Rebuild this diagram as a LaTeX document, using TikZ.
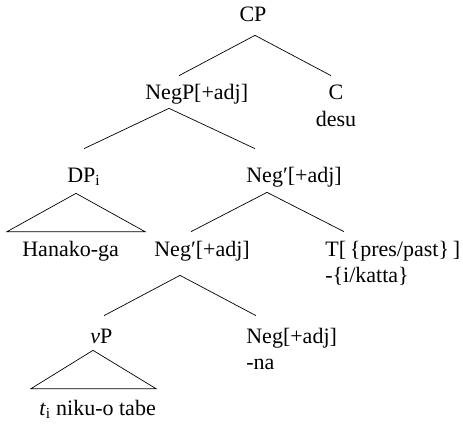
\documentclass[tikz,border=0pt]{standalone}
\usepackage{fontspec}
\setmainfont{Liberation Serif}
\usetikzlibrary{positioning}

\begin{document}
\begin{tikzpicture}[x=1pt, y=-1pt, inner sep=0pt, text height=15pt, text depth=5pt,
    font=\fontsize{22}{26}\selectfont, line width=0.7pt]
      \useasboundingbox (0,0) rectangle (463,425);

      \node (cp) [anchor=base] at (253,22) {CP};
      \node (negp) [anchor=base west] at (145,100) {NegP[+adj]};
      \node (c) [anchor=base] at (336,100) {C};
      \node (desu) [below=6pt of c] {desu};
      \node (dp) [anchor=base west] at (67,182) {DP\textsubscript{i}};
      \node (negbar) [anchor=base west] at (246,182) {Neg′[+adj]};
      \node (hanako) [anchor=base west] at (22,256) {Hanako-ga};
      \node (negbar2) [anchor=base west] at (154,256) {Neg′[+adj]};
      \node (t) [anchor=base west] at (325,256) {T[\,\{pres/past\}\,]};
      \node (katta) [below right=6pt and 0pt of t.south west] {-\{i/katta\}};
      \node (vp) [anchor=base west] at (90,343) {\textit{v}P};
      \node (neg) [anchor=base west] at (246,343) {Neg[+adj]};
      \node (na) [below right=6pt and 0pt of neg.south west] {-na};
      \node (trace) [anchor=base west] at (39,415) {\textit{t}\textsubscript{i} niku-o tabe};

      % branch points under the heads, ends above the daughters
      \coordinate (cp-b) at ([shift={(2,8)}]cp.south);
      \coordinate (negp-t) at ([shift={(34,-9)}]negp.north west);
      \coordinate (c-t) at ([shift={(-5,-9)}]c.north);
      \coordinate (negp-b) at ([shift={(24,3)}]negp.south west);
      \coordinate (dp-t) at ([shift={(17,-18)}]dp.north west);
      \coordinate (negbar-t) at ([shift={(9,-18)}]negbar.north west);
      \coordinate (dp-b) at ([shift={(9,6)}]dp.south west);
      \coordinate (hanako-l) at ([shift={(-15,-9)}]hanako.north west);
      \coordinate (hanako-r) at ([shift={(123,-9)}]hanako.north west);
      \coordinate (negbar-b) at ([shift={(21,5)}]negbar.south west);
      \coordinate (negbar2-t) at ([shift={(37,-9)}]negbar2.north west);
      \coordinate (t-t) at ([shift={(19,-9)}]t.north west);
      \coordinate (negbar2-b) at ([shift={(26,14)}]negbar2.south west);
      \coordinate (vp-t) at ([shift={(14,-12)}]vp.north west);
      \coordinate (neg-t) at ([shift={(10,-12)}]neg.north west);
      \coordinate (vp-b) at ([shift={(3,2)}]vp.south west);
      \coordinate (trace-l) at ([shift={(-8,-11)}]trace.north west);
      \coordinate (trace-r) at ([shift={(117,-11)}]trace.north west);

      \path (cp-b) edge (negp-t) edge (c-t);
      \path (negp-b) edge (dp-t) edge (negbar-t);
      \path (negbar-b) edge (negbar2-t) edge (t-t);
      \path (negbar2-b) edge (vp-t) edge (neg-t);
      \draw (dp-b) -- (hanako-l) -- (hanako-r) -- cycle;
      \draw (vp-b) -- (trace-l) -- (trace-r) -- cycle;
    \end{tikzpicture}
\end{document}
